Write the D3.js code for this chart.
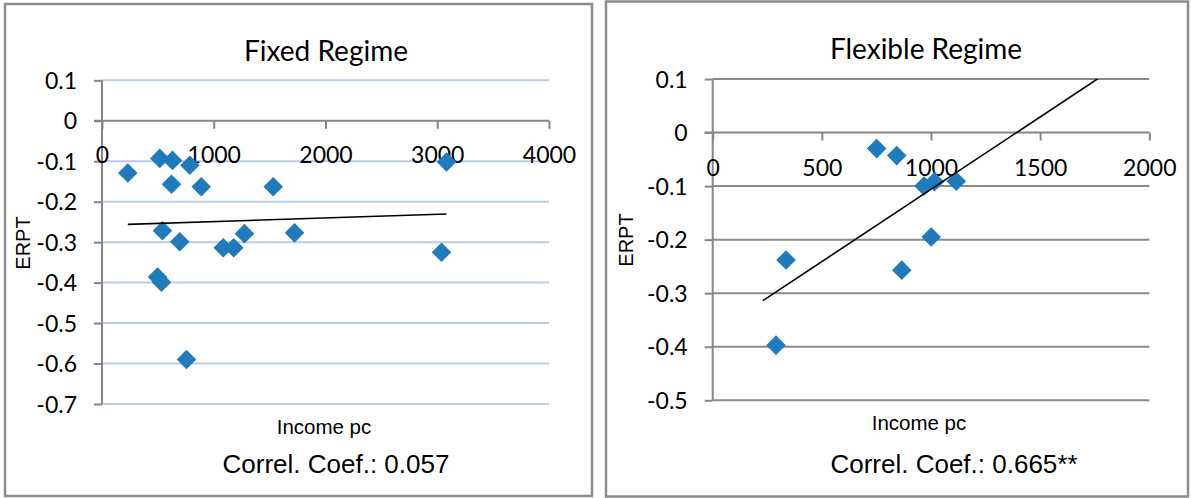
<!DOCTYPE html>
<html>
<head>
<meta charset="utf-8">
<script src="https://cdn.jsdelivr.net/npm/d3@7"></script>
<style>
  html, body { margin: 0; padding: 0; background: #ffffff; }
  svg { display: block; }
</style>
</head>
<body>
<svg id="chart" width="1191" height="498"></svg>
<script>
// ---- Fixed exchange-rate regime: income per capita vs. ERPT ----
const fixedIncome = [231, 517, 631, 786, 622, 888, 1532, 541, 696, 1085, 1179, 1275, 1723, 497, 532, 756, 3083, 3038];
const fixedErpt   = [-0.129, -0.093, -0.098, -0.110, -0.157, -0.163, -0.163, -0.272, -0.299, -0.314, -0.314, -0.279, -0.277, -0.386, -0.399, -0.590, -0.102, -0.325];
const fixedXTicks = [0, 1000, 2000, 3000, 4000];
const fixedXTickLabels = ["0", "1000", "2000", "3000", "4000"];
const fixedYTicks = [0.1, 0, -0.1, -0.2, -0.3, -0.4, -0.5, -0.6, -0.7];
const fixedYTickLabels = ["0.1", "0", "-0.1", "-0.2", "-0.3", "-0.4", "-0.5", "-0.6", "-0.7"];
const fixedCorrel = "Correl. Coef.: 0.057";

// ---- Flexible exchange-rate regime ----
const flexIncome = [751, 843, 968, 1016, 1116, 1001, 866, 336, 290];
const flexErpt   = [-0.030, -0.043, -0.100, -0.092, -0.091, -0.195, -0.257, -0.238, -0.397];
const flexXTicks = [0, 500, 1000, 1500, 2000];
const flexXTickLabels = ["0", "500", "1000", "1500", "2000"];
const flexYTicks = [0.1, 0, -0.1, -0.2, -0.3, -0.4, -0.5];
const flexYTickLabels = ["0.1", "0", "-0.1", "-0.2", "-0.3", "-0.4", "-0.5"];
const flexCorrel = "Correl. Coef.: 0.665**";
const flexTrendSpan = [230, 2000];

const svg = d3.select("#chart");
const TICK_FONT = "Lato, 'Liberation Sans', sans-serif";
const LABEL_FONT = "'Liberation Sans', Arial, sans-serif";

// Ordinary least-squares fit y = a + b x
function linearFit(xs, ys) {
  const mx = d3.mean(xs), my = d3.mean(ys);
  let sxy = 0, sxx = 0;
  xs.forEach((x, i) => { sxy += (x - mx) * (ys[i] - my); sxx += (x - mx) * (x - mx); });
  const b = sxy / sxx;
  return { a: my - b * mx, b };
}

function diamond(r) {
  return `M0,${-r}L${r},0L0,${r}L${-r},0Z`;
}

function drawPanel(cfg) {
  const g = svg.append("g");

  // outer frame
  g.append("rect")
    .attr("x", cfg.frame[0]).attr("y", cfg.frame[1])
    .attr("width", cfg.frame[2] - cfg.frame[0]).attr("height", cfg.frame[3] - cfg.frame[1])
    .attr("fill", "#ffffff").attr("stroke", "#8c8c8c").attr("stroke-width", 2.5);

  const x = d3.scaleLinear().domain(cfg.xDomain).range([cfg.plot.left, cfg.plot.right]);
  const y = d3.scaleLinear().domain(cfg.yDomain).range([cfg.plot.bottom, cfg.plot.top]);

  // horizontal gridlines (value 0 is drawn as the x axis)
  g.append("g").selectAll("line")
    .data(cfg.yTicks.filter(v => v !== 0))
    .join("line")
    .attr("x1", cfg.plot.left).attr("x2", cfg.plot.right)
    .attr("y1", d => y(d)).attr("y2", d => y(d))
    .attr("stroke", cfg.gridColor).attr("stroke-width", 2);

  // y axis with outside ticks
  const yAxis = d3.axisLeft(y).tickValues(cfg.yTicks).tickSize(8)
    .tickFormat((d, i) => cfg.yTickLabels[i]);
  const ya = g.append("g").attr("transform", `translate(${cfg.plot.left},0)`).call(yAxis);
  ya.select(".domain").attr("stroke", "#868686").attr("stroke-width", 2)
    .attr("d", `M0,${cfg.plot.top}V${cfg.plot.bottom}`);
  ya.selectAll(".tick line").attr("stroke", "#868686").attr("stroke-width", 2);
  ya.selectAll(".tick text")
    .attr("x", -25).attr("dy", null).attr("y", 8)
    .attr("text-anchor", "end")
    .attr("font-family", TICK_FONT).attr("font-size", 23).attr("fill", "#000");

  // x axis crossing at zero
  const xAxis = d3.axisBottom(x).tickValues(cfg.xTicks).tickSize(8)
    .tickFormat((d, i) => cfg.xTickLabels[i]);
  const xa = g.append("g").attr("transform", `translate(0,${y(0)})`).call(xAxis);
  xa.select(".domain").attr("stroke", "#868686").attr("stroke-width", 2)
    .attr("d", `M${cfg.plot.left - 8},0H${cfg.plot.right}`);
  xa.selectAll(".tick line").attr("stroke", "#868686").attr("stroke-width", 2);
  xa.selectAll(".tick text")
    .attr("y", cfg.xLabelOffset).attr("dy", null)
    .attr("font-family", TICK_FONT).attr("font-size", 23).attr("fill", "#000");

  // markers
  g.append("g").selectAll("path")
    .data(cfg.xs.map((v, i) => [v, cfg.ys[i]]))
    .join("path")
    .attr("d", diamond(9.8))
    .attr("transform", d => `translate(${x(d[0])},${y(d[1])})`)
    .attr("fill", "#1f7bbb");

  // linear trend line, clipped to the plot area
  const fit = linearFit(cfg.xs, cfg.ys);
  const clipId = "clip-" + cfg.id;
  g.append("clipPath").attr("id", clipId).append("rect")
    .attr("x", cfg.plot.left).attr("y", cfg.plot.top)
    .attr("width", cfg.plot.right - cfg.plot.left).attr("height", cfg.plot.bottom - cfg.plot.top);
  const span = cfg.trendSpan;
  g.append("line")
    .attr("clip-path", `url(#${clipId})`)
    .attr("x1", x(span[0])).attr("y1", y(fit.a + fit.b * span[0]))
    .attr("x2", x(span[1])).attr("y2", y(fit.a + fit.b * span[1]))
    .attr("stroke", "#000").attr("stroke-width", 1.6);

  // titles
  g.append("text").attr("x", cfg.titlePos[0]).attr("y", cfg.titlePos[1])
    .attr("text-anchor", "middle").attr("font-family", TICK_FONT).attr("font-size", 28)
    .text(cfg.title);
  g.append("text")
    .attr("transform", `translate(${cfg.yTitlePos[0]},${cfg.yTitlePos[1]}) rotate(-90)`)
    .attr("text-anchor", "middle").attr("font-family", LABEL_FONT).attr("font-size", 20)
    .attr("dy", "0.35em")
    .text("ERPT");
  g.append("text").attr("x", cfg.xTitlePos[0]).attr("y", cfg.xTitlePos[1])
    .attr("text-anchor", "middle").attr("font-family", LABEL_FONT).attr("font-size", 20.5)
    .text("Income pc");
  g.append("text").attr("x", cfg.correlPos[0]).attr("y", cfg.correlPos[1])
    .attr("text-anchor", "middle").attr("font-family", LABEL_FONT).attr("font-size", 26)
    .text(cfg.correl);
}

drawPanel({
  id: "fixed",
  frame: [5, 4, 592, 496],
  plot: { left: 102, right: 549, top: 80.3, bottom: 404 },
  xDomain: [0, 4000], yDomain: [-0.7, 0.1],
  xTicks: fixedXTicks, xTickLabels: fixedXTickLabels,
  yTicks: fixedYTicks, yTickLabels: fixedYTickLabels,
  xLabelOffset: 42.5,
  gridColor: "#b9cde9",
  xs: fixedIncome, ys: fixedErpt,
  trendSpan: d3.extent(fixedIncome),
  title: "Fixed Regime", titlePos: [326, 61],
  yTitlePos: [22.5, 243], xTitlePos: [324, 434],
  correl: fixedCorrel, correlPos: [336, 473]
});

drawPanel({
  id: "flex",
  frame: [606, 1.5, 1188, 496.5],
  plot: { left: 712.7, right: 1149.3, top: 79, bottom: 400.3 },
  xDomain: [0, 2000], yDomain: [-0.5, 0.1],
  xTicks: flexXTicks, xTickLabels: flexXTickLabels,
  yTicks: flexYTicks, yTickLabels: flexYTickLabels,
  xLabelOffset: 43,
  gridColor: "#8a8a8a",
  xs: flexIncome, ys: flexErpt,
  trendSpan: flexTrendSpan,
  title: "Flexible Regime", titlePos: [926, 59],
  yTitlePos: [626, 240], xTitlePos: [919, 430],
  correl: flexCorrel, correlPos: [954, 472.7]
});
</script>
</body>
</html>
